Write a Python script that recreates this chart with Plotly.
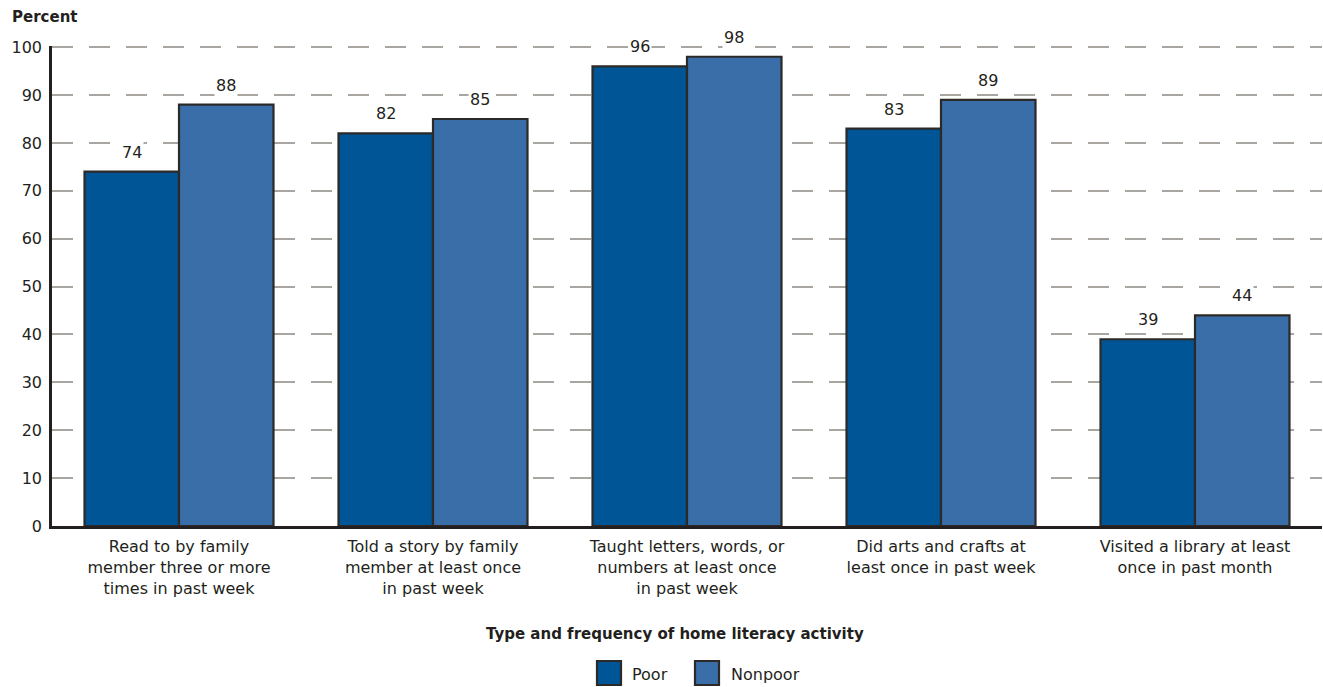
import plotly.graph_objects as go

# Home literacy activities by poverty status (percent)
categories = [
    "Read to by family<br>member three or more<br>times in past week",
    "Told a story by family<br>member at least once<br>in past week",
    "Taught letters, words, or<br>numbers at least once<br>in past week",
    "Did arts and crafts at<br>least once in past week",
    "Visited a library at least<br>once in past month",
]
series_names = ["Poor", "Nonpoor"]
poor = [74, 82, 96, 83, 39]
nonpoor = [88, 85, 98, 89, 44]
y_ticks = [0, 10, 20, 30, 40, 50, 60, 70, 80, 90, 100]

colors = ["#005596", "#3a6ea8"]
outline = "#2b2a29"
text_color = "#231f20"
font_family = "DejaVu Sans"

# layout geometry in pixels
W, H = 1323, 687
L, R, T, B = 52, 1, 46, 161
plot_w = W - L - R
plot_h = H - T - B
y_max = 100.25  # a hair above 100 so the top gridline is kept


def px_to_paper(px, py):
    return (px - L) / plot_w, (H - B - py) / plot_h


bar_w = 0.372
xs = list(range(len(categories)))

fig = go.Figure()
for name, vals, color, off in [
    (series_names[0], poor, colors[0], -bar_w),
    (series_names[1], nonpoor, colors[1], 0.0),
]:
    fig.add_trace(go.Bar(
        x=xs, y=vals, name=name, width=bar_w, offset=off,
        marker=dict(color=color, line=dict(color=outline, width=2.2)),
        showlegend=False,
    ))

annotations = []
# value labels above bars
for vals, shift in [(poor, -bar_w / 2), (nonpoor, bar_w / 2)]:
    for i, v in enumerate(vals):
        annotations.append(dict(
            x=i + shift, y=v, xref="x", yref="y", text=str(v),
            showarrow=False, yanchor="bottom", yshift=8,
            bgcolor="white", borderpad=1,
            font=dict(size=16, color=text_color, family=font_family),
        ))

# y-axis caption
px, py = px_to_paper(10, 17)
annotations.append(dict(
    x=px, y=py, xref="paper", yref="paper", text="<b>Percent</b>",
    showarrow=False, xanchor="left", yanchor="middle",
    font=dict(size=15, color=text_color, family=font_family),
))

# x-axis caption
px, py = px_to_paper(675, 634)
annotations.append(dict(
    x=px, y=py, xref="paper", yref="paper",
    text="<b>Type and frequency of home literacy activity</b>",
    showarrow=False, xanchor="center", yanchor="middle",
    font=dict(size=15, color=text_color, family=font_family),
))

# legend: swatches and labels
shapes = []
legend_items = [(597, 630), (695, 729)]
for (sx, tx), name, color in zip(legend_items, series_names, colors):
    x0, y0 = px_to_paper(sx, 685)
    x1, y1 = px_to_paper(sx + 24, 661)
    shapes.append(dict(
        type="rect", xref="paper", yref="paper",
        x0=x0, x1=x1, y0=y0, y1=y1,
        fillcolor=color, line=dict(color=outline, width=2.2),
    ))
    lx, ly = px_to_paper(tx, 674)
    annotations.append(dict(
        x=lx, y=ly, xref="paper", yref="paper", text=name,
        showarrow=False, xanchor="left", yanchor="middle",
        font=dict(size=16, color=text_color, family=font_family),
    ))

fig.update_layout(
    width=W, height=H,
    margin=dict(l=L, r=R, t=T, b=B, pad=0),
    paper_bgcolor="white", plot_bgcolor="white",
    barmode="overlay",
    font=dict(family=font_family, size=16, color=text_color),
    annotations=annotations, shapes=shapes,
    showlegend=False,
)
fig.update_xaxes(
    range=[-0.5, len(categories) - 0.5],
    tickvals=xs, ticktext=categories,
    showgrid=False, zeroline=False,
    showline=True, linecolor=text_color, linewidth=2.5,
    ticks="", ticklabelstandoff=4,
    tickfont=dict(size=16, color=text_color, family=font_family),
    fixedrange=True,
)
fig.update_yaxes(
    range=[0, y_max], tickvals=y_ticks,
    showgrid=True, gridcolor="#a9a6a2", gridwidth=2, griddash="21px,16px",
    zeroline=False,
    showline=True, linecolor=text_color, linewidth=2.5,
    ticks="", ticklabelstandoff=4,
    tickfont=dict(size=16, color=text_color, family=font_family),
    fixedrange=True,
)

fig.write_html("out.html")
